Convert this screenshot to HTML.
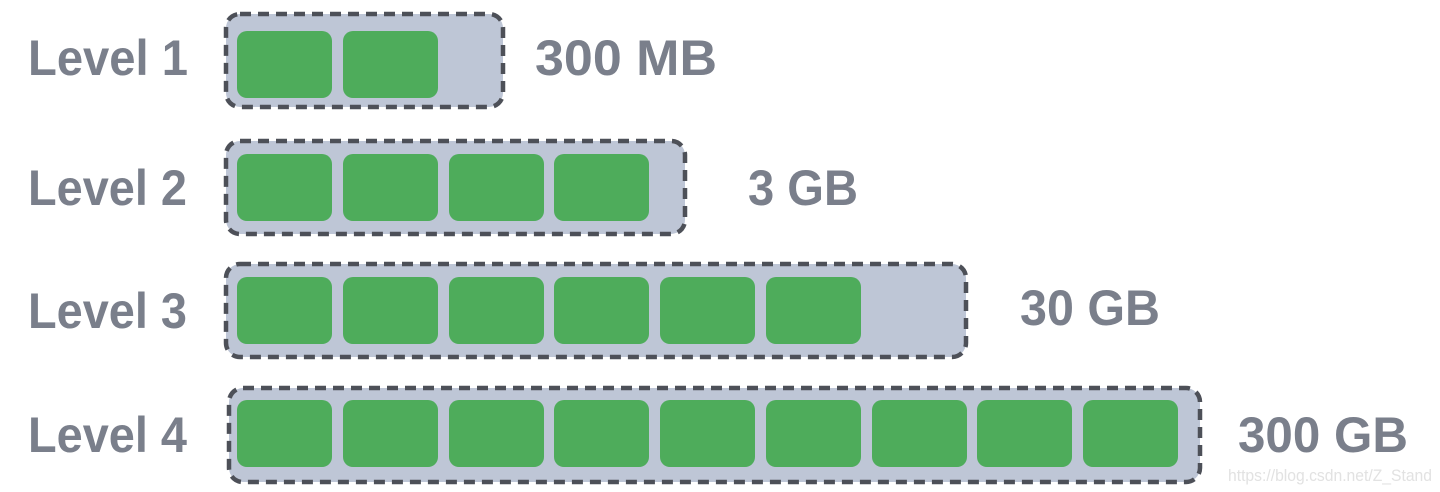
<!DOCTYPE html>
<html><head><meta charset="utf-8"><style>
html,body{margin:0;padding:0;background:#fff;width:1440px;height:492px;overflow:hidden}
</style></head><body>
<svg width="1440" height="492" xmlns="http://www.w3.org/2000/svg" font-family="Liberation Sans, sans-serif" font-weight="bold" fill="#7a7f8b">
<g stroke="#4d5058" stroke-width="4.5" stroke-dasharray="11,7" fill="#bec6d6">
<rect x="226" y="14" width="277" height="93" rx="14"/>
<rect x="226" y="141" width="459" height="93" rx="14"/>
<rect x="226" y="264" width="740" height="93" rx="14"/>
<rect x="229" y="388" width="971" height="94" rx="14"/>
</g>
<g fill="#4eac5b">
<rect x="237" y="31" width="95" height="67" rx="10"/><rect x="343" y="31" width="95" height="67" rx="10"/>
<rect x="237" y="154" width="95" height="67" rx="10"/><rect x="343" y="154" width="95" height="67" rx="10"/><rect x="449" y="154" width="95" height="67" rx="10"/><rect x="554" y="154" width="95" height="67" rx="10"/>
<rect x="237" y="277" width="95" height="67" rx="10"/><rect x="343" y="277" width="95" height="67" rx="10"/><rect x="449" y="277" width="95" height="67" rx="10"/><rect x="554" y="277" width="95" height="67" rx="10"/><rect x="660" y="277" width="95" height="67" rx="10"/><rect x="766" y="277" width="95" height="67" rx="10"/>
<rect x="237" y="400" width="95" height="67" rx="10"/><rect x="343" y="400" width="95" height="67" rx="10"/><rect x="449" y="400" width="95" height="67" rx="10"/><rect x="554" y="400" width="95" height="67" rx="10"/><rect x="660" y="400" width="95" height="67" rx="10"/><rect x="766" y="400" width="95" height="67" rx="10"/><rect x="872" y="400" width="95" height="67" rx="10"/><rect x="977" y="400" width="95" height="67" rx="10"/><rect x="1083" y="400" width="95" height="67" rx="10"/>
</g>
<g font-size="50">
<text x="28" y="75" textLength="160" lengthAdjust="spacingAndGlyphs">Level 1</text>
<text x="28" y="205" textLength="159" lengthAdjust="spacingAndGlyphs">Level 2</text>
<text x="28" y="328" textLength="159" lengthAdjust="spacingAndGlyphs">Level 3</text>
<text x="28" y="452" textLength="159" lengthAdjust="spacingAndGlyphs">Level 4</text>
<text x="535" y="75" textLength="182" lengthAdjust="spacingAndGlyphs">300 MB</text>
<text x="748" y="205" textLength="110" lengthAdjust="spacingAndGlyphs">3 GB</text>
<text x="1020" y="325" textLength="140" lengthAdjust="spacingAndGlyphs">30 GB</text>
<text x="1238" y="452" textLength="170" lengthAdjust="spacingAndGlyphs">300 GB</text>
</g>
<text x="1228" y="481" font-size="17" font-weight="normal" fill="#e2e2e2" textLength="204" lengthAdjust="spacingAndGlyphs">https://blog.csdn.net/Z_Stand</text>
</svg>
</body></html>
